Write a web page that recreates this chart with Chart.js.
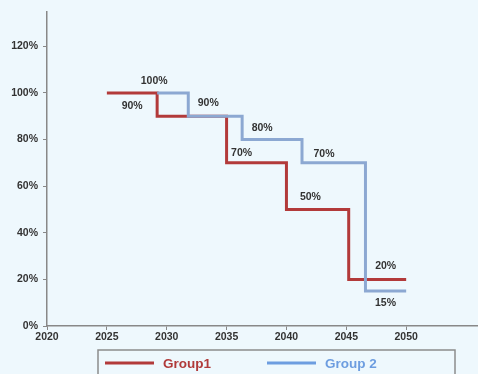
<!DOCTYPE html>
<html>
<head>
<meta charset="utf-8">
<script src="https://cdn.jsdelivr.net/npm/chart.js@4/dist/chart.umd.min.js"></script>
<style>
  html, body { margin: 0; padding: 0; background: #eef8fd; }
  #wrap { width: 478px; height: 374px; position: relative; }
</style>
</head>
<body>
<div id="wrap"><canvas id="stepChart"></canvas></div>
<script>
// data
var seriesNames = ['Group1', 'Group 2'];
var group1Years = [2025, 2029.2, 2035, 2040, 2045.2, 2050];
var group1Values = [100, 90, 70, 50, 20, 20];
var group2Years = [2029.2, 2031.8, 2036.3, 2041.3, 2046.6, 2050];
var group2Values = [100, 90, 80, 70, 15, 15];
var yTickValues = [0, 20, 40, 60, 80, 100, 120];
var xTickYears = [2020, 2025, 2030, 2035, 2040, 2045, 2050];

function toPoints(xs, ys) {
    return xs.map(function (x, i) { return { x: x, y: ys[i] }; });
}

// where each step label sits, relative to the start of its level (px); null = no label
var labelOffsets = [
    [null, [-25, -10], [15, -10], [24, -12], [37, -13], null],
    [[-3, -12], [20, -13], [20, -11], [22, -9], [20, 12], null]
];

var stepLabels = {
    id: 'stepLabels',
    afterDatasetsDraw: function (chart) {
        var ctx = chart.ctx;
        ctx.save();
        ctx.font = 'bold 10.5px Arial';
        ctx.fillStyle = '#333333';
        ctx.textAlign = 'center';
        ctx.textBaseline = 'middle';
        chart.data.datasets.forEach(function (ds, d) {
            var meta = chart.getDatasetMeta(d);
            meta.data.forEach(function (pt, i) {
                var off = labelOffsets[d][i];
                if (!off) return;
                ctx.fillText(ds.data[i].y + '%', pt.x + off[0], pt.y + off[1]);
            });
        });
        ctx.restore();
    }
};

// boxed legend under the axis
var boxLegend = {
    id: 'boxLegend',
    afterDraw: function (chart) {
        var ctx = chart.ctx;
        ctx.save();
        ctx.strokeStyle = '#8c8c8c';
        ctx.lineWidth = 1.5;
        ctx.strokeRect(98, 350, 357, 40);
        var startX = [105, 267];
        var textColors = ['#b03a3a', '#6d9de0'];
        chart.data.datasets.forEach(function (ds, d) {
            var x0 = startX[d];
            ctx.strokeStyle = d === 0 ? ds.borderColor : '#6d9de0';
            ctx.lineWidth = 3;
            ctx.beginPath();
            ctx.moveTo(x0, 363);
            ctx.lineTo(x0 + 49, 363);
            ctx.stroke();
            ctx.font = 'bold 13.5px Arial';
            ctx.fillStyle = textColors[d];
            ctx.textAlign = 'left';
            ctx.textBaseline = 'middle';
            ctx.fillText(ds.label, x0 + 58, 364);
        });
        ctx.restore();
    }
};

var ctx = document.getElementById('stepChart').getContext('2d');
var stepChart = new Chart(ctx, {
    type: 'line',
    data: {
        datasets: [{
            label: seriesNames[0],
            data: toPoints(group1Years, group1Values),
            borderColor: '#b23a3a',
            borderWidth: 3,
            stepped: 'before',
            pointRadius: 0,
            fill: false,
            order: 1 // drawn under group 2
        }, {
            label: seriesNames[1],
            data: toPoints(group2Years, group2Values),
            borderColor: '#8ca8d2',
            borderWidth: 3,
            stepped: 'before',
            pointRadius: 0,
            fill: false,
            order: 0
        }]
    },
    options: {
        responsive: true,
        maintainAspectRatio: false,
        animation: false,
        layout: { padding: { top: 10, right: 0, left: 0, bottom: 0 } },
        plugins: {
            legend: { display: false },
            tooltip: { enabled: false }
        },
        scales: {
            x: {
                type: 'linear',
                min: 2020,
                max: 2056,
                afterBuildTicks: function (scale) {
                    scale.ticks = xTickYears.map(function (v) { return { value: v }; });
                },
                afterFit: function (scale) { scale.height = 48; },
                ticks: {
                    font: { family: 'Arial', size: 10.5, weight: 'bold' },
                    color: '#333333',
                    padding: 1,
                    maxRotation: 0,
                    callback: function (v) { return String(v); }
                },
                grid: { drawOnChartArea: false, tickLength: 4, color: '#888888' },
                border: { color: '#888888', width: 1.5 }
            },
            y: {
                min: 0,
                max: 135,
                afterBuildTicks: function (scale) {
                    scale.ticks = yTickValues.map(function (v) { return { value: v }; });
                },
                afterFit: function (scale) { scale.width = 47; },
                ticks: {
                    font: { family: 'Arial', size: 10.5, weight: 'bold' },
                    color: '#333333',
                    padding: 5,
                    callback: function (v) { return v + '%'; }
                },
                grid: { drawOnChartArea: false, tickLength: 4, color: '#888888' },
                border: { color: '#888888', width: 1.5 }
            }
        }
    },
    plugins: [stepLabels, boxLegend]
});
</script>
</body>
</html>
